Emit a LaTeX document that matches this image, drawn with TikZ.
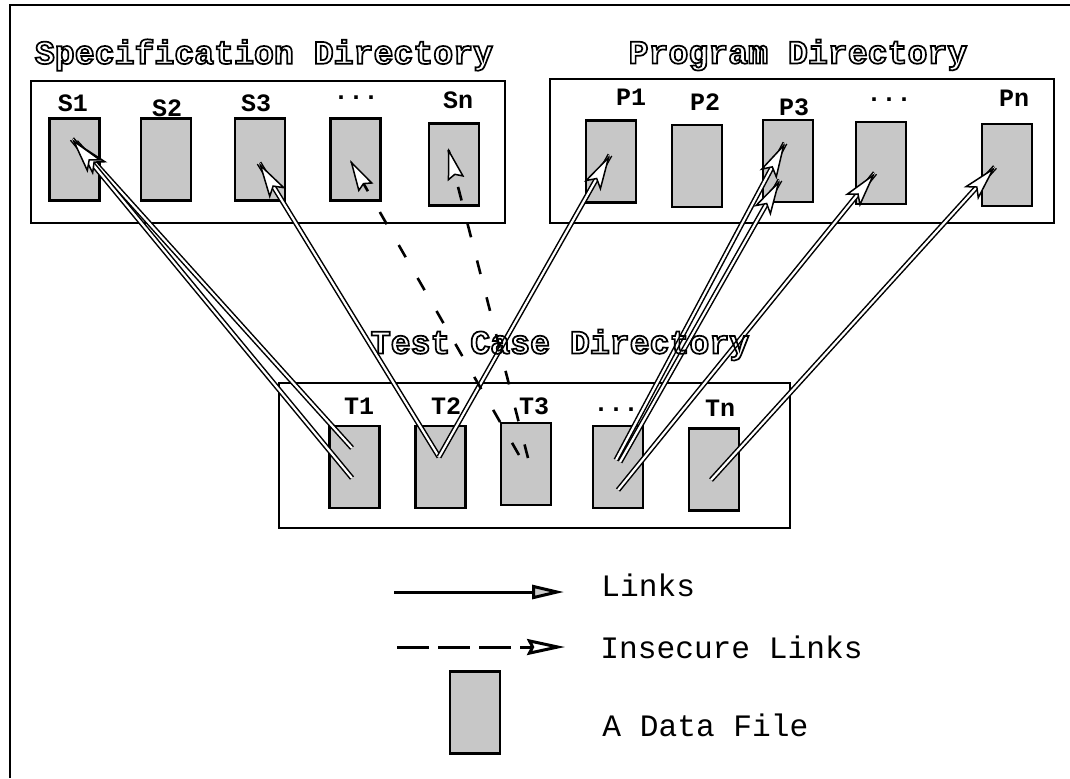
\documentclass[tikz,border=0pt]{standalone}
\usepackage{fontspec}
\setmonofont{Liberation Mono}
\usetikzlibrary{arrows.meta,calc}
\newcommand{\hollowtext}[1]{\special{pdf:literal direct 1 Tr 0.85 w}#1\special{pdf:literal direct 0 Tr}}
\begin{document}
\begin{tikzpicture}[x=0.5pt,y=-0.5pt,
 datafile/.style={draw, line width=1.4pt, fill=black!22, minimum width=25pt, minimum height=41pt, inner sep=0pt},
 dirbox/.style={draw, line width=1.3pt, inner sep=0pt},
 flabel/.style={font=\ttfamily\bfseries\fontsize{12.5}{14}\selectfont, inner sep=0pt},
 dtitle/.style={font=\ttfamily\bfseries\fontsize{16.6}{20}\selectfont, inner sep=0pt},
 legtext/.style={font=\ttfamily\fontsize{15.6}{18}\selectfont, anchor=west, inner sep=0pt},
 linkline/.style={line width=0.75pt, double=white, double distance=1.1pt},
 linkhead/.style={line width=0.75pt, -{Stealth[open, fill=white, length=18pt, width=9.5pt, inset=4pt]}},
 insecure/.style={line width=1.3pt, dash pattern=on 7pt off 12pt},
 insecurehead/.style={line width=0.75pt, -{Stealth[open, fill=white, length=16pt, width=8.5pt, inset=2pt]}},
]
\useasboundingbox (0,0) rectangle (1070,778);
% outer frame
\draw[line width=1.3pt] (10,778) -- (10,5) -- (1070,5);

% directory boxes
\node[dirbox, minimum width=237pt, minimum height=71pt] (specdir) at (268,152) {};
\node[dirbox, minimum width=252pt, minimum height=72pt] (progdir) at (802,151) {};
\node[dirbox, minimum width=255.5pt, minimum height=72.5pt] (testdir) at (534.5,455.5) {};

% titles
\node[dtitle] (spectitle) at (264,55) {\hollowtext{Specification Directory}};
\node[dtitle] (progtitle) at (798,55) {\hollowtext{Program Directory}};

% spec files
\node[datafile] (s1) at (74.5,159.5) {};
\node[datafile] (s2) at (166,159.5) {};
\node[datafile] (s3) at (260,159.5) {};
\node[datafile] (sd) at (355.5,159.5) {};
\node[datafile] (sn) at (454,164.5) {};
\node[flabel] (s1l) at (73,103) {S1};
\node[flabel] (s2l) at (167,108) {S2};
\node[flabel] (s3l) at (256,103) {S3};
\node[flabel] (sdl) at (356,98) {...};
\node[flabel] (snl) at (458,100) {Sn};

% program files
\node[datafile] (p1) at (611,161.5) {};
\node[datafile] (p2) at (697,166) {};
\node[datafile] (p3) at (788,161) {};
\node[datafile] (pd) at (881,163) {};
\node[datafile] (pn) at (1007,165) {};
\node[flabel] (p1l) at (631,97) {P1};
\node[flabel] (p2l) at (705,102) {P2};
\node[flabel] (p3l) at (794,107) {P3};
\node[flabel] (pdl) at (889,100) {...};
\node[flabel] (pnl) at (1014,98) {Pn};

% test files
\node[datafile] (t1) at (354.5,467) {};
\node[datafile] (t2) at (440.5,467) {};
\node[datafile] (t3) at (526,464) {};
\node[datafile] (td) at (618,467) {};
\node[datafile] (tn) at (714,469.5) {};
\node[flabel] (t1l) at (359,406) {T1};
\node[flabel] (t2l) at (446,406) {T2};
\node[flabel] (t3l) at (534,406) {T3};
\node[flabel] (tdl) at (616,410) {...};
\node[flabel] (tnl) at (720,408) {Tn};

% link end points
\coordinate (s1tipA) at (72,139);
\coordinate (s1tipB) at (76,142);
\coordinate (t1tailA) at (352,448);
\coordinate (t1tailB) at (352,478);
\coordinate (s3tip) at (259,163);
\coordinate (t2tail) at (439,457);
\coordinate (p1tip) at (610,155);
\coordinate (sdtip) at (350,160);
\coordinate (sntip) at (448,148);
\coordinate (t3tailA) at (519,455);
\coordinate (t3tailB) at (528,458);
\coordinate (p3tipA) at (785,143);
\coordinate (p3tipB) at (780,180);
\coordinate (tdtailA) at (616,460);
\coordinate (tdtailB) at (620,462);
\coordinate (tdtailC) at (618,490);
\coordinate (pdtip) at (875,173);
\coordinate (pntip) at (995,167);
\coordinate (tntail) at (711,480);

% links (lines)
\draw[linkline] (t1tailA) -- (s1tipB);
\draw[linkline] (t1tailB) -- (s1tipA);
\draw[linkline] (t2tail) -- (s3tip);
\draw[linkline] (t2tail) -- (p1tip);
\draw[linkline] (tdtailA) -- (p3tipA);
\draw[linkline] (tdtailB) -- (p3tipB);
\draw[linkline] (tdtailC) -- (pdtip);
\draw[linkline] (tntail) -- (pntip);
% insecure links
\draw[insecure] (t3tailA) -- (sdtip);
\draw[insecure] (t3tailB) -- (sntip);

% heads
\draw[linkhead] ($(s1tipB)!1pt!(t1tailA)$) -- (s1tipB);
\draw[linkhead] ($(s1tipA)!1pt!(t1tailB)$) -- (s1tipA);
\draw[linkhead] ($(s3tip)!1pt!(t2tail)$) -- (s3tip);
\draw[linkhead] ($(p1tip)!1pt!(t2tail)$) -- (p1tip);
\draw[linkhead] ($(p3tipA)!1pt!(tdtailA)$) -- (p3tipA);
\draw[linkhead] ($(p3tipB)!1pt!(tdtailB)$) -- (p3tipB);
\draw[linkhead] ($(pdtip)!1pt!(tdtailC)$) -- (pdtip);
\draw[linkhead] ($(pntip)!1pt!(tntail)$) -- (pntip);
\draw[insecurehead] ($(sdtip)!1pt!(t3tailA)$) -- (sdtip);
\draw[insecurehead] ($(sntip)!1pt!(t3tailB)$) -- (sntip);

% test title on top
\node[dtitle] (testtitle) at (560,345) {\hollowtext{Test Case Directory}};

% legend
\coordinate (leg1a) at (394,592);
\coordinate (leg1b) at (564,592);
\coordinate (leg2a) at (397,647);
\coordinate (leg2b) at (565,647);
\draw[line width=1.5pt, -{Triangle[open, fill=black!20, length=16pt, width=7pt]}] (leg1a) -- (leg1b);
\draw[line width=1.5pt, dash pattern=on 16pt off 4.5pt, -{Stealth[open, fill=white, length=19pt, width=8pt, inset=2pt, sep=0pt]}] (leg2a) -- (leg2b);
\node[legtext] (linkstext) at (601,585) {Links};
\node[legtext] (insectext) at (600,647) {Insecure Links};
\node[datafile] (legfile) at (475,712.5) {};
\node[legtext] (filetext) at (602,725) {A Data File};
\end{tikzpicture}
\end{document}
